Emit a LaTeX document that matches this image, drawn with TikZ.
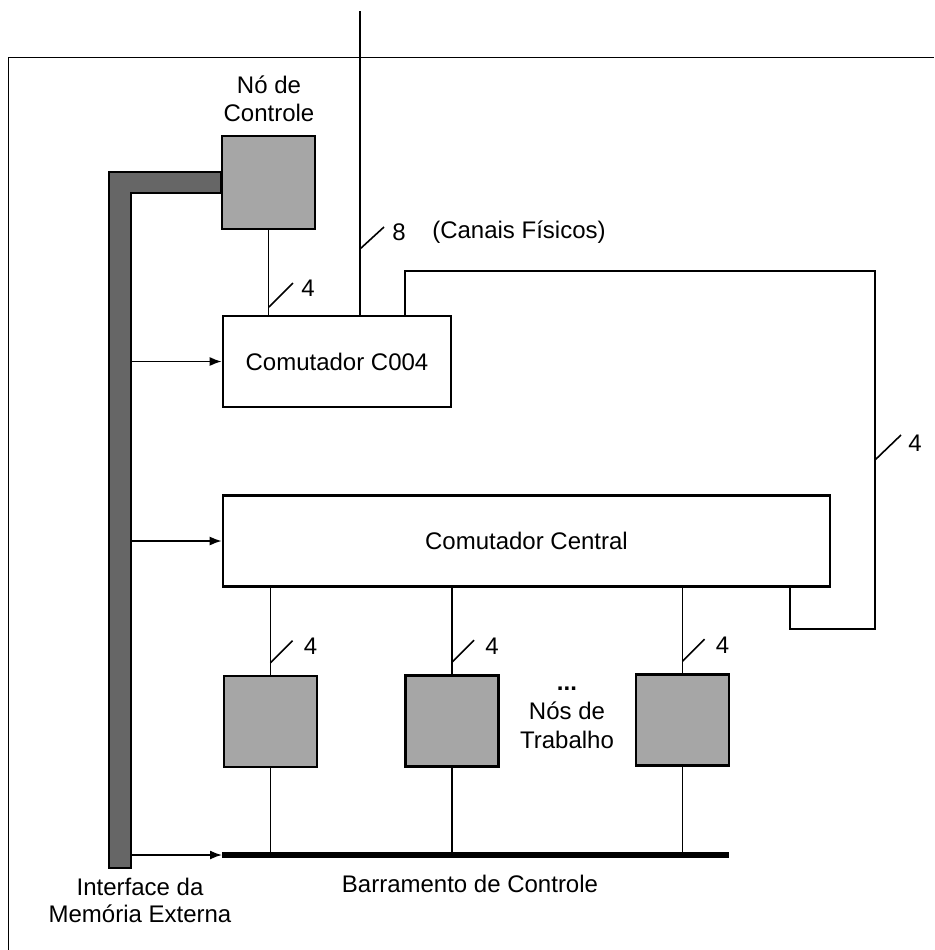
\documentclass[tikz,border=0pt]{standalone}
\usepackage{fontspec}
\setmainfont{Liberation Sans}
\usetikzlibrary{arrows.meta,positioning,calc}

\tikzset{
  wire/.style={line width=0.8pt},
  comut/.style={draw, line width=1.3pt, minimum height=45.5pt, inner sep=0pt},
  noh/.style={draw, line width=1.3pt, fill=black!35, minimum width=46.5pt, minimum height=45.5pt, inner sep=0pt},
  txt/.style={font=\fontsize{12}{14}\selectfont, inner sep=0pt, align=center},
  seta/.style={wire, -{Latex[length=6pt,width=4.5pt]}},
}

\begin{document}
\begin{tikzpicture}[x=0.5pt,y=-0.5pt]
\useasboundingbox (0,0) rectangle (934,950);

%Moldura
\draw[line width=0.5pt] (8,950) -- (8,57) -- (934,57);

%No de controle
\node[noh, minimum height=46.5pt] (ctrl) at (268.5,182.5) {};
\node[txt] (ctrltxt) at (269,99) {Nó de\\Controle};

%Comutadores
\node[comut, minimum width=114pt] (c004) at (337,361.5) {};
\node[txt] (c004txt) at (c004.center) {Comutador C004};
\node[comut, minimum width=303.5pt] (central) at (526.5,541) {};
\node[txt] (centraltxt) at (central.center) {Comutador Central};

%Nos de trabalho
\node[noh] (w1) at (270.5,721.5) {};
\node[noh] (w2) at (452,721) {};
\node[noh] (w3) at (682.5,720) {};
\node[txt, font=\fontsize{12}{14.5}\selectfont] (wtxt) at (567,718) {\textbf{...}\\Nós de\\Trabalho};

%Interface da memoria externa
\coordinate (ifb) at (131,868);
\filldraw[fill=black!60, draw=black, line width=0.6pt] (109,172) -- (ctrl.west |- 0,172) -- (ctrl.west |- 0,193) -- (131,193) -- (ifb) -- (109,868) -- cycle;
\node[txt, font=\fontsize{12}{13.5}\selectfont] (iftxt) at (140,900) {Interface da\\Memória Externa};

%Barramento de controle
\coordinate (busL) at (222,855);
\coordinate (busR) at (729,855);
\draw[line width=2.6pt] (busL) -- (busR);
\draw[seta] (ifb |- busL) -- (busL);
\node[txt] (bustxt) at (470,884) {Barramento de Controle};

%Setas da interface
\draw[seta] (ifb |- c004.west) -- (c004.west);
\draw[seta] (ifb |- central.west) -- (central.west);

%Canais fisicos
\coordinate (chtop) at (360,11);
\draw[wire] (chtop) -- (chtop |- c004.north);
\draw[wire] (360,249) -- (384,227);
\node[txt] (n8) at (399,232) {8};
\node[txt] (canais) at (519,232) {(Canais Físicos)};

%Controle -> C004
\draw[wire] (ctrl.south) -- (ctrl.south |- c004.north);
\draw[wire] (269,307) -- (293,283);
\node[txt] (n4c) at (308,288) {4};

%C004 -> central
\coordinate (fbA) at (405,271);
\coordinate (fbB) at (875,629);
\coordinate (fbC) at (790,587);
\draw[wire] (fbA |- c004.north) -- (fbA) -| (fbB) -| (fbC);
\draw[wire] (875,460) -- (901,435);
\node[txt] (n4r) at (915,443) {4};

%Central -> nos de trabalho
\foreach \w/\lab in {w1/n4a, w2/n4b, w3/n4d}{
  \draw[wire] (\w.north |- central.south) -- (\w.north);
  \draw[wire] (\w.south) -- (\w.south |- busL);
  \draw[wire] ($(\w.north)+(0,-12)$) -- ++(22,-22);
  \node[txt] (\lab) at ($(\w.north)+(40,-28)$) {4};
}
\end{tikzpicture}
\end{document}
